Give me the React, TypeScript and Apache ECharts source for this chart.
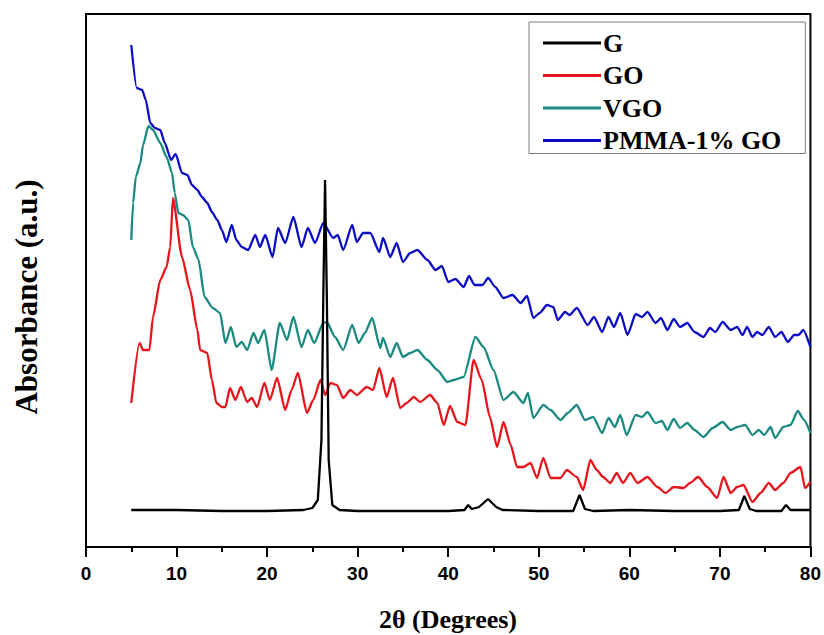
import React, { useEffect, useRef } from "react";
import * as echarts from "echarts";

// 2θ (degrees) and absorbance (a.u.)
const G_X = [5, 10, 15, 20, 24, 25, 25.6, 26.0, 26.2, 26.4, 26.6, 26.8, 27.2, 28, 30, 35, 40, 41.8, 42.2, 42.6, 43.4, 44.4, 45.3, 46, 50, 53.8, 54.5, 55.1, 56, 60, 65, 70, 72.1, 72.7, 73.3, 74, 76.8, 77.3, 77.8, 80];
const G_Y = [37, 37, 36, 36, 37, 39, 47, 107, 247, 367, 247, 87, 42, 37, 36, 36, 36, 37, 42, 38, 40, 48, 40, 37, 36, 36, 52, 38, 36, 37, 36, 36, 37, 51, 38, 36, 36, 42, 37, 37];

const GO_X = [5.0, 5.9, 6.3, 7.0, 7.4, 8.2, 8.9, 9.3, 9.6, 10.6, 11.5, 12.3, 12.6, 13.4, 13.9, 14.4, 15.0, 15.4, 15.9, 16.5, 17.1, 17.8, 18.3, 18.9, 19.7, 20.3, 21.1, 22.0, 22.7, 23.4, 24.4, 25.1, 25.9, 26.4, 27.0, 27.7, 28.4, 29.2, 29.9, 31.0, 31.7, 32.4, 33.2, 33.9, 34.7, 35.4, 36.2, 36.9, 38.0, 38.8, 39.5, 40.2, 41.0, 41.9, 42.8, 43.7, 44.6, 45.4, 46.1, 46.9, 47.6, 48.3, 49.1, 49.8, 50.5, 51.3, 52.4, 53.1, 54.2, 54.9, 55.7, 56.4, 57.1, 57.9, 58.6, 59.3, 60.1, 60.9, 62.0, 63.1, 64.0, 64.9, 66.0, 66.7, 67.6, 68.6, 69.7, 70.4, 71.2, 71.9, 72.6, 73.6, 74.5, 75.4, 76.1, 77.0, 77.8, 78.9, 79.4, 80.0];
const GO_Y = [144, 204, 197, 197, 230, 267, 280, 300, 349, 290, 257, 217, 197, 194, 167, 144, 140, 140, 159, 147, 160, 145, 149, 140, 164, 147, 169, 137, 157, 174, 134, 147, 167, 152, 164, 162, 149, 157, 152, 160, 157, 179, 150, 169, 139, 144, 150, 145, 152, 144, 122, 141, 125, 122, 187, 167, 130, 100, 125, 102, 80, 80, 84, 69, 89, 69, 69, 77, 70, 57, 87, 77, 70, 64, 74, 64, 74, 64, 70, 60, 54, 60, 59, 64, 70, 60, 49, 70, 54, 60, 62, 45, 54, 64, 57, 64, 74, 80, 59, 65];

const VGO_X = [5.0, 5.2, 5.5, 6.0, 6.3, 6.9, 7.4, 8.2, 8.9, 9.5, 9.8, 10.2, 10.7, 11.3, 11.8, 12.4, 13.1, 14.0, 14.8, 15.4, 16.0, 16.6, 17.2, 17.8, 18.5, 19.0, 19.7, 20.5, 21.4, 22.2, 22.9, 23.8, 24.5, 25.2, 26.2, 26.6, 27.5, 28.4, 29.4, 30.1, 30.8, 31.6, 32.5, 32.8, 33.6, 34.3, 35.0, 35.8, 36.6, 37.7, 38.8, 39.9, 40.6, 41.7, 43.0, 43.9, 45.0, 46.1, 47.2, 48.3, 48.8, 49.4, 50.5, 51.3, 52.4, 53.2, 54.2, 55.1, 56.0, 57.0, 57.7, 58.4, 59.0, 59.7, 60.7, 61.4, 62.0, 62.9, 63.6, 64.2, 64.9, 65.6, 66.4, 67.2, 68.2, 69.2, 70.3, 71.2, 71.9, 72.8, 73.6, 74.3, 74.9, 75.6, 76.1, 77.0, 77.8, 78.6, 79.3, 80.0];
const VGO_Y = [307, 344, 370, 384, 402, 421, 417, 404, 390, 374, 354, 334, 332, 327, 300, 288, 250, 239, 234, 204, 220, 200, 205, 197, 214, 204, 217, 177, 224, 207, 230, 200, 217, 204, 224, 225, 210, 197, 222, 204, 214, 229, 199, 209, 190, 204, 190, 194, 197, 187, 177, 165, 167, 170, 210, 200, 177, 147, 155, 144, 154, 129, 142, 137, 127, 134, 142, 127, 130, 114, 129, 120, 132, 112, 132, 130, 135, 124, 126, 117, 128, 119, 124, 117, 110, 119, 125, 117, 120, 122, 112, 117, 112, 120, 109, 120, 122, 136, 127, 114];

const PMMA_X = [5.0, 5.6, 6.2, 6.6, 7.1, 7.6, 8.2, 8.7, 9.4, 9.9, 10.6, 11.2, 11.7, 12.3, 12.8, 13.4, 13.9, 14.5, 15.0, 15.5, 16.1, 16.6, 17.2, 17.9, 18.7, 19.2, 19.8, 20.6, 21.2, 22.0, 22.9, 23.8, 24.5, 25.3, 26.2, 27.3, 27.8, 28.4, 29.4, 29.9, 30.6, 31.4, 32.4, 32.8, 33.6, 34.3, 35.0, 35.8, 36.6, 37.7, 38.6, 39.3, 40.0, 40.8, 41.7, 42.3, 42.9, 43.8, 44.4, 45.2, 46.1, 47.1, 48.0, 48.7, 49.4, 50.1, 50.9, 51.6, 52.1, 52.9, 53.4, 54.2, 55.4, 56.1, 57.0, 57.7, 58.3, 59.0, 59.8, 60.7, 61.4, 62.0, 62.9, 63.5, 64.2, 64.9, 65.6, 66.4, 67.2, 68.2, 68.9, 69.5, 70.3, 71.2, 71.9, 72.5, 73.0, 73.6, 74.1, 74.7, 75.4, 76.1, 76.8, 77.5, 78.2, 78.7, 79.2, 80.0];
const PMMA_Y = [502, 459, 457, 447, 424, 419, 417, 404, 387, 393, 374, 372, 362, 357, 350, 344, 335, 327, 317, 305, 322, 307, 300, 297, 312, 300, 312, 290, 319, 304, 330, 300, 319, 304, 324, 309, 312, 297, 322, 305, 314, 314, 295, 309, 290, 304, 285, 294, 297, 287, 277, 281, 265, 268, 260, 271, 262, 262, 269, 260, 249, 252, 244, 251, 229, 234, 242, 240, 227, 235, 232, 239, 222, 230, 215, 230, 220, 234, 212, 233, 230, 235, 224, 229, 217, 228, 220, 224, 215, 210, 219, 215, 225, 217, 220, 212, 220, 210, 215, 212, 220, 210, 215, 205, 212, 212, 217, 200];

const X_TICKS = [0, 10, 20, 30, 40, 50, 60, 70, 80];
const SERIES_NAMES = ["G", "GO", "VGO", "PMMA-1% GO"];
const SERIES_COLORS = ["#000000", "#e8141c", "#1a8a80", "#0c0cc4"];

const pairs = (xs: number[], ys: number[]) => xs.map((x, i) => [x, ys[i]]);

export default function App() {
  const ref = useRef<HTMLDivElement>(null);
  useEffect(() => {
    document.body.style.margin = "0";
    if (!ref.current) return;
    const chart = echarts.init(ref.current, undefined, { renderer: "svg" });
    const datasets = [pairs(G_X, G_Y), pairs(GO_X, GO_Y), pairs(VGO_X, VGO_Y), pairs(PMMA_X, PMMA_Y)];
    chart.setOption({
      animation: false,
      backgroundColor: "#ffffff",
      grid: {
        left: 86,
        right: 13,
        top: 14,
        bottom: 88,
        show: true,
        borderColor: "#000",
        borderWidth: 2,
      },
      legend: {
        data: SERIES_NAMES,
        orient: "vertical",
        left: 529,
        top: 22,
        icon: "rect",
        itemWidth: 58,
        itemHeight: 3,
        itemGap: 6.5,
        padding: [8, 24, 0, 14],
        borderColor: "#7a7a7a",
        borderWidth: 1,
        textStyle: {
          fontFamily: "Liberation Serif",
          fontWeight: "bold",
          fontSize: 26,
          lineHeight: 26,
          color: "#000",
          padding: [0, 0, 0, -3],
        },
      },
      xAxis: {
        type: "value",
        min: X_TICKS[0],
        max: X_TICKS[X_TICKS.length - 1],
        interval: 10,
        axisLine: { show: true, lineStyle: { color: "#000", width: 2 } },
        axisTick: { show: true, inside: false, length: 10, lineStyle: { color: "#000", width: 2 } },
        minorTick: { show: true, splitNumber: 2, length: 5, lineStyle: { color: "#000", width: 2 } },
        splitLine: { show: false },
        minorSplitLine: { show: false },
        axisLabel: {
          margin: 17,
          fontFamily: "Liberation Sans",
          fontWeight: "bold",
          fontSize: 19,
          color: "#000",
        },
      },
      yAxis: {
        type: "value",
        min: 0,
        max: 533,
        axisLine: { show: true, lineStyle: { color: "#000", width: 2 } },
        axisTick: { show: false },
        axisLabel: { show: false },
        splitLine: { show: false },
      },
      graphic: [
        {
          type: "text",
          x: 448,
          y: 619,
          style: {
            text: "2θ (Degrees)",
            font: "bold 26px 'Liberation Serif'",
            fill: "#000",
            align: "center",
            verticalAlign: "middle",
          },
        },
        {
          type: "text",
          x: 26,
          y: 297,
          rotation: Math.PI / 2,
          style: {
            text: "Absorbance (a.u.)",
            font: "bold 31px 'Liberation Serif'",
            fill: "#000",
            align: "center",
            verticalAlign: "middle",
          },
        },
      ],
      series: SERIES_NAMES.map((name, i) => ({
        name,
        type: "line",
        data: datasets[i],
        symbol: "none",
        showSymbol: false,
        smooth: i === 0 ? false : 0.2,
        smoothMonotone: "x",
        z: i === 0 ? 5 : 2,
        color: SERIES_COLORS[i],
        lineStyle: { color: SERIES_COLORS[i], width: 2.3 },
      })),
    });
    return () => chart.dispose();
  }, []);
  return <div ref={ref} style={{ width: 824, height: 635 }} />;
}
